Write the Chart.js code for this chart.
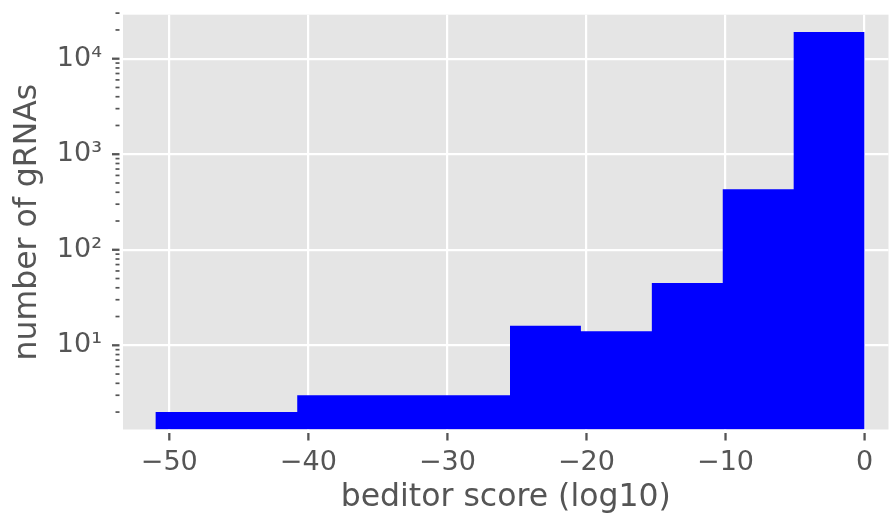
<!DOCTYPE html>
<html>
<head>
<meta charset="utf-8">
<script src="https://cdn.jsdelivr.net/npm/chart.js@4/dist/chart.umd.min.js"></script>
<style>
  html, body { margin: 0; padding: 0; background: #fff; }
  #wrap { width: 889px; height: 518px; }
</style>
</head>
<body>
<div id="wrap"><canvas id="hist" width="889" height="518"></canvas></div>
<script>
// Histogram bins (beditor score, log10) and gRNA counts per bin
const binEdges = [-51, -45.9, -40.8, -35.7, -30.6, -25.5, -20.4, -15.3, -10.2, -5.1, 0];
const counts = [2, 2, 3, 3, 3, 16, 14, 45, 430, 19000];

// Axis ticks
const xTickValues = [-50, -40, -30, -20, -10, 0];
const xTickLabels = ['\u221250', '\u221240', '\u221230', '\u221220', '\u221210', '0'];
const yTickValues = [10, 100, 1000, 10000];
const yTickLabels = ['10\u00b9', '10\u00b2', '10\u00b3', '10\u2074'];

const textColor = '#555555';
const fontFamily = '"DejaVu Sans", sans-serif';

// step outline: one point per bin edge, last edge repeats the last count
const points = binEdges.map((x, i) => ({ x: x, y: counts[Math.min(i, counts.length - 1)] }));

// grey panel behind the plot
const panelBg = {
    id: 'panelBg',
    beforeDraw(chart) {
        const { ctx, chartArea } = chart;
        ctx.save();
        ctx.fillStyle = '#E5E5E5';
        ctx.fillRect(chartArea.left, chartArea.top, chartArea.right - chartArea.left, chartArea.bottom - chartArea.top);
        ctx.restore();
    }
};

// outside tick marks, with minor ticks on the log axis
const tickMarks = {
    id: 'tickMarks',
    afterDraw(chart) {
        const { ctx, chartArea } = chart;
        const xs = chart.scales.x;
        const ys = chart.scales.y;
        ctx.save();
        ctx.strokeStyle = textColor;
        ctx.lineWidth = 2.3;
        xs.ticks.forEach(t => {
            const px = xs.getPixelForValue(t.value);
            ctx.beginPath();
            ctx.moveTo(px, chartArea.bottom + 3.5);
            ctx.lineTo(px, chartArea.bottom + 11);
            ctx.stroke();
        });
        yTickValues.forEach(v => {
            const py = ys.getPixelForValue(v);
            ctx.beginPath();
            ctx.moveTo(chartArea.left - 11, py);
            ctx.lineTo(chartArea.left - 3.5, py);
            ctx.stroke();
        });
        ctx.lineWidth = 1.7;
        for (let k = 0; k < 5; k++) {
            for (let m = 2; m < 10; m++) {
                const py = ys.getPixelForValue(m * Math.pow(10, k));
                if (py < chartArea.top - 3 || py > chartArea.bottom) continue;
                ctx.beginPath();
                ctx.moveTo(chartArea.left - 7.5, py);
                ctx.lineTo(chartArea.left - 3.5, py);
                ctx.stroke();
            }
        }
        ctx.restore();
    }
};

new Chart(document.getElementById('hist'), {
    type: 'line',
    data: {
        datasets: [{
            data: points,
            stepped: 'before',
            fill: 'start',
            backgroundColor: '#0000FF',
            borderWidth: 0,
            pointRadius: 0
        }]
    },
    options: {
        responsive: false,
        animation: false,
        layout: { padding: { top: 14.7, right: 0.5, bottom: 0, left: 0 } },
        plugins: {
            legend: { display: false },
            tooltip: { enabled: false }
        },
        scales: {
            x: {
                type: 'linear',
                min: -53.33,
                max: 1.72,
                afterBuildTicks: scale => { scale.ticks = xTickValues.map(v => ({ value: v })); },
                afterFit: scale => {
                    scale.height = 88.5;
                    scale.paddingLeft = 0;
                    scale.paddingRight = 0;
                },
                ticks: {
                    color: textColor,
                    font: { family: fontFamily, size: 27 },
                    padding: 17,
                    maxRotation: 0,
                    callback: (value) => xTickLabels[xTickValues.indexOf(value)]
                },
                grid: { color: '#FFFFFF', lineWidth: 2.2, drawTicks: false },
                border: { display: false },
                title: {
                    display: true,
                    text: 'beditor score (log10)',
                    color: textColor,
                    font: { family: fontFamily, size: 31.5 },
                    padding: { top: 1, bottom: 1 }
                }
            },
            y: {
                type: 'logarithmic',
                min: 1.314,
                max: 28880,
                afterBuildTicks: scale => { scale.ticks = yTickValues.map(v => ({ value: v })); },
                afterFit: scale => {
                    scale.width = 123;
                    scale.paddingTop = 0;
                    scale.paddingBottom = 0;
                },
                ticks: {
                    color: textColor,
                    font: { family: fontFamily, size: 27 },
                    padding: 21,
                    callback: (value) => yTickLabels[yTickValues.indexOf(value)]
                },
                grid: { color: '#FFFFFF', lineWidth: 2.2, drawTicks: false },
                border: { display: false },
                title: {
                    display: true,
                    text: 'number of gRNAs',
                    color: textColor,
                    font: { family: fontFamily, size: 31.5 },
                    padding: { top: 9, bottom: 0 }
                }
            }
        }
    },
    plugins: [panelBg, tickMarks]
});
</script>
</body>
</html>
